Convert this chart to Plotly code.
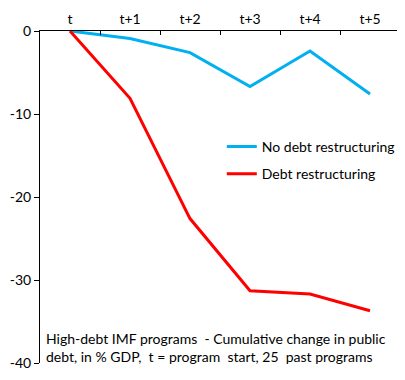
import plotly.graph_objects as go

periods = ["t", "t+1", "t+2", "t+3", "t+4", "t+5"]
no_restructuring = [0, -0.9, -2.6, -6.7, -2.4, -7.6]
restructuring = [0, -8.1, -22.6, -31.3, -31.7, -33.7]
y_ticks = [0, -10, -20, -30, -40]
y_tick_labels = ["0", "-10", "-20", "-30", "-40"]

FONT = "Lato"

fig = go.Figure()
fig.add_trace(go.Scatter(x=periods, y=no_restructuring, mode="lines",
                         name="No debt restructuring", legendgroup="a",
                         line=dict(color="#00B0F0", width=3)))
fig.add_trace(go.Scatter(x=periods, y=restructuring, mode="lines",
                         name="Debt restructuring", legendgroup="b",
                         line=dict(color="#FF0000", width=3)))

# page body has an 8px default margin, so the figure is offset by 8px
fig.update_layout(
    width=397, height=372,
    margin=dict(l=32, r=5, t=23, b=17),
    paper_bgcolor="white", plot_bgcolor="white",
    font=dict(family=FONT, size=14, color="black"),
    showlegend=True,
    legend=dict(x=0.505, y=0.699, xanchor="left", yanchor="top",
                traceorder="grouped", tracegroupgap=6,
                bgcolor="rgba(0,0,0,0)", font=dict(size=14)),
    xaxis=dict(type="category", side="top", range=[-0.5, 5.5], automargin=False,
               showline=True, linecolor="black",
               linewidth=1, ticks="inside", ticklen=4, tickcolor="black",
               tickson="boundaries", showgrid=False, zeroline=False,
               tickfont=dict(size=14)),
    yaxis=dict(range=[-40, 0], tickvals=y_ticks, ticktext=y_tick_labels,
               automargin=False,
               showline=True, linecolor="black", linewidth=1, ticks="outside",
               ticklen=5, tickcolor="black", showgrid=False, zeroline=False,
               tickfont=dict(size=14)),
    annotations=[dict(
        text="High-debt IMF programs  - Cumulative change in public<br>debt, in % GDP,  t = program  start, 25  past programs",
        xref="paper", yref="paper", x=0.0102, y=-0.012, xanchor="left", yanchor="bottom",
        align="left", showarrow=False, font=dict(size=14, family=FONT))],
)

fig.write_html("out.html")
